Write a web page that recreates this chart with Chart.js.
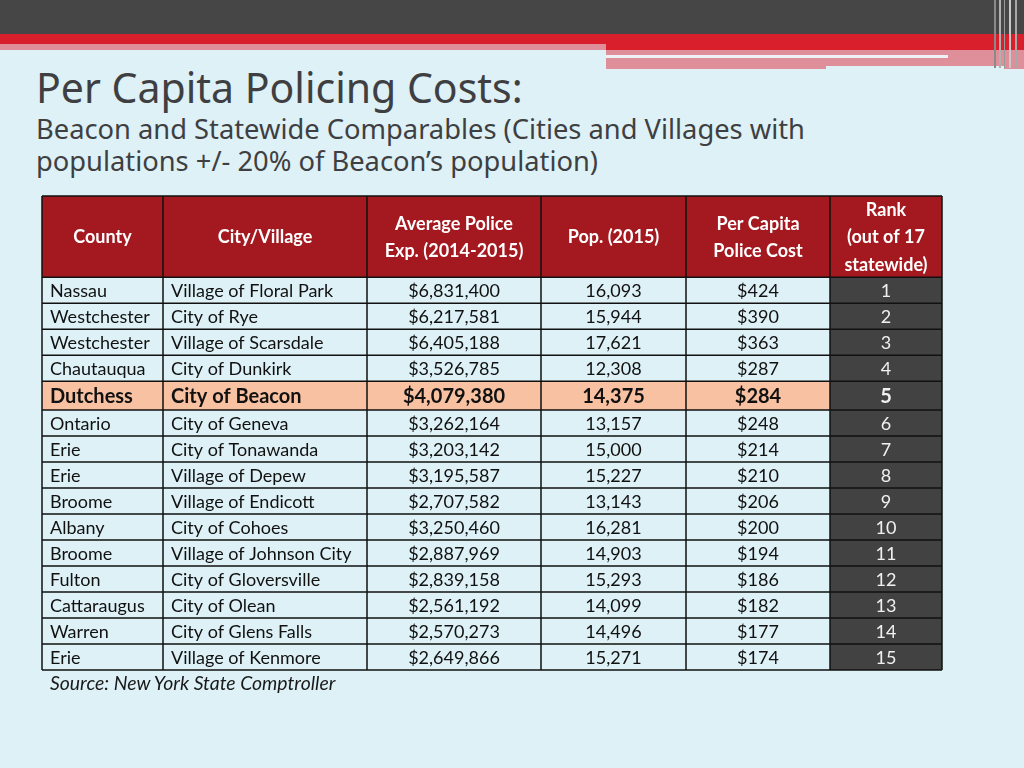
<!DOCTYPE html>
<html>
<head>
<meta charset="utf-8">
<script src="https://cdn.jsdelivr.net/npm/chart.js@4.4.0/dist/chart.umd.min.js"></script>
<style>
  html, body { margin: 0; padding: 0; }
  body { width: 1024px; height: 768px; background: #ddf1f7; position: relative; overflow: hidden; font-family: Lato, "Open Sans", sans-serif; }
  .bar { position: absolute; }
  #title { position: absolute; left: 36px; top: 59px; font-family: "Noto Sans", sans-serif; font-size: 41px; color: #3f3f42; white-space: nowrap; }
  #subtitle { position: absolute; left: 36px; top: 113px; font-family: "Noto Sans", sans-serif; font-size: 27.3px; line-height: 32px; color: #3f3f42; white-space: nowrap; }
  #source { position: absolute; left: 50px; top: 671px; font-style: italic; font-size: 19.4px; color: #1a1a1a; }
  #tableCanvas { position: absolute; left: 40px; top: 194px; }
</style>
</head>
<body>
<div class="bar" style="left:0;top:0;width:1024px;height:34px;background:#464646"></div>
<div class="bar" style="left:0;top:34px;width:1024px;height:16px;background:#d91f2b"></div>
<div class="bar" style="left:0;top:44px;width:606px;height:6px;background:#df8f99"></div>
<div class="bar" style="left:606px;top:50px;width:418px;height:19px;background:#df8f99"></div>
<div class="bar" style="left:606px;top:55px;width:342px;height:3px;background:#eef2f4"></div>
<div class="bar" style="left:826px;top:66px;width:178px;height:3px;background:#ddf1f7"></div>
<div class="bar" style="left:994px;top:0;width:2px;height:68px;background:#8a8a8a"></div>
<div class="bar" style="left:999px;top:0;width:2px;height:68px;background:#b0b0b0"></div>
<div class="bar" style="left:1004px;top:0;width:1px;height:68px;background:#9a9a9a"></div>
<div class="bar" style="left:1009px;top:0;width:2px;height:68px;background:#c8c8c8"></div>
<div class="bar" style="left:1015px;top:0;width:2px;height:68px;background:#a8a8a8"></div>

<div id="title">Per Capita Policing Costs:</div>
<div id="subtitle">Beacon and Statewide Comparables (Cities and Villages with<br>populations +/- 20% of Beacon’s population)</div>

<canvas id="tableCanvas" width="904" height="478"></canvas>
<div id="source">Source: New York State Comptroller</div>

<script>
// table data
const headers = [
    ['County'],
    ['City/Village'],
    ['Average Police', 'Exp. (2014-2015)'],
    ['Pop. (2015)'],
    ['Per Capita', 'Police Cost'],
    ['Rank', '(out of 17', 'statewide)']
];
const counties = ['Nassau', 'Westchester', 'Westchester', 'Chautauqua', 'Dutchess', 'Ontario', 'Erie', 'Erie', 'Broome', 'Albany', 'Broome', 'Fulton', 'Cattaraugus', 'Warren', 'Erie'];
const cities = ['Village of Floral Park', 'City of Rye', 'Village of Scarsdale', 'City of Dunkirk', 'City of Beacon', 'City of Geneva', 'City of Tonawanda', 'Village of Depew', 'Village of Endicott', 'City of Cohoes', 'Village of Johnson City', 'City of Gloversville', 'City of Olean', 'City of Glens Falls', 'Village of Kenmore'];
const avgExpense = [6831400, 6217581, 6405188, 3526785, 4079380, 3262164, 3203142, 3195587, 2707582, 3250460, 2887969, 2839158, 2561192, 2570273, 2649866];
const population = [16093, 15944, 17621, 12308, 14375, 13157, 15000, 15227, 13143, 16281, 14903, 15293, 14099, 14496, 15271];
const perCapita = [424, 390, 363, 287, 284, 248, 214, 210, 206, 200, 194, 186, 182, 177, 174];
const ranks = [1, 2, 3, 4, 5, 6, 7, 8, 9, 10, 11, 12, 13, 14, 15];
const highlightCity = 'City of Beacon';

// layout
const colWidths = [121, 204, 174, 145, 144, 112];
const headerHeight = 81;
const rowHeight = 25.9;
const highlightHeight = 28.5;
const colAlign = ['left', 'left', 'center', 'center', 'center', 'center'];

const money = function (v) { return '$' + v.toLocaleString('en-US'); };
const cellText = function (r, c) {
    if (c === 0) return counties[r];
    if (c === 1) return cities[r];
    if (c === 2) return money(avgExpense[r]);
    if (c === 3) return population[r].toLocaleString('en-US');
    if (c === 4) return money(perCapita[r]);
    return String(ranks[r]);
};

const colEdges = [0];
colWidths.forEach(function (w) { colEdges.push(colEdges[colEdges.length - 1] + w); });
const rowEdges = [0, headerHeight];
cities.forEach(function (c) {
    rowEdges.push(rowEdges[rowEdges.length - 1] + (c === highlightCity ? highlightHeight : rowHeight));
});
const totalW = colEdges[colEdges.length - 1];
const totalH = rowEdges[rowEdges.length - 1];

// cell centres, one point per cell
const points = [];
for (let r = 0; r < rowEdges.length - 1; r++) {
    for (let c = 0; c < colWidths.length; c++) {
        points.push({x: (colEdges[c] + colEdges[c + 1]) / 2, y: (rowEdges[r] + rowEdges[r + 1]) / 2});
    }
}

const tablePlugin = {
    id: 'tablePlugin',
    afterDatasetsDraw: function (chart) {
        const ctx = chart.ctx;
        const xs = chart.scales.x, ys = chart.scales.y;
        const px = function (v) { return xs.getPixelForValue(v); };
        const py = function (v) { return ys.getPixelForValue(v); };
        const nRows = rowEdges.length - 1;
        ctx.save();
        // fills
        for (let r = 0; r < nRows; r++) {
            for (let c = 0; c < colWidths.length; c++) {
                let fill = null;
                if (r === 0) fill = '#a3191f';
                else if (c === 5) fill = '#424242';
                else if (cities[r - 1] === highlightCity) fill = '#f8c1a2';
                if (fill) {
                    ctx.fillStyle = fill;
                    ctx.fillRect(px(colEdges[c]), py(rowEdges[r]), px(colEdges[c + 1]) - px(colEdges[c]), py(rowEdges[r + 1]) - py(rowEdges[r]));
                }
            }
        }
        // grid lines
        ctx.strokeStyle = '#111';
        ctx.lineWidth = 1.5;
        ctx.beginPath();
        rowEdges.forEach(function (e) { ctx.moveTo(px(0), py(e)); ctx.lineTo(px(totalW), py(e)); });
        colEdges.forEach(function (e) { ctx.moveTo(px(e), py(0)); ctx.lineTo(px(e), py(totalH)); });
        ctx.stroke();
        // text
        ctx.textBaseline = 'middle';
        for (let r = 0; r < nRows; r++) {
            const yTop = py(rowEdges[r]), yBot = py(rowEdges[r + 1]);
            const yMid = (yTop + yBot) / 2;
            for (let c = 0; c < colWidths.length; c++) {
                const x0 = px(colEdges[c]), x1 = px(colEdges[c + 1]);
                if (r === 0) {
                    const lines = headers[c];
                    const gap = lines.length === 3 ? 27.5 : 27;
                    ctx.fillStyle = '#ffffff';
                    ctx.font = 'bold 18px Lato';
                    ctx.textAlign = 'center';
                    lines.forEach(function (t, i) {
                        ctx.fillText(t, (x0 + x1) / 2, yMid + (i - (lines.length - 1) / 2) * gap + 1);
                    });
                    continue;
                }
                const hl = cities[r - 1] === highlightCity;
                ctx.font = (hl ? 'bold 20px' : '18px') + ' Lato';
                ctx.fillStyle = c === 5 ? '#f0f0f0' : '#111';
                ctx.textAlign = colAlign[c];
                const tx = colAlign[c] === 'left' ? x0 + 8 : (x0 + x1) / 2;
                ctx.fillText(cellText(r - 1, c), tx, yMid + 1);
            }
        }
        ctx.restore();
    }
};

const canvas = document.getElementById('tableCanvas');
const chart = new Chart(canvas, {
    type: 'scatter',
    data: {
        datasets: [{
            data: points,
            pointRadius: 0,
            pointHoverRadius: 0
        }]
    },
    options: {
        responsive: false,
        animation: false,
        devicePixelRatio: 1,
        layout: {padding: 2},
        plugins: {legend: {display: false}, tooltip: {enabled: false}},
        scales: {
            x: {type: 'linear', display: false, min: 0, max: totalW},
            y: {type: 'linear', display: false, min: 0, max: totalH, reverse: true}
        }
    },
    plugins: [tablePlugin]
});
</script>
</body>
</html>
